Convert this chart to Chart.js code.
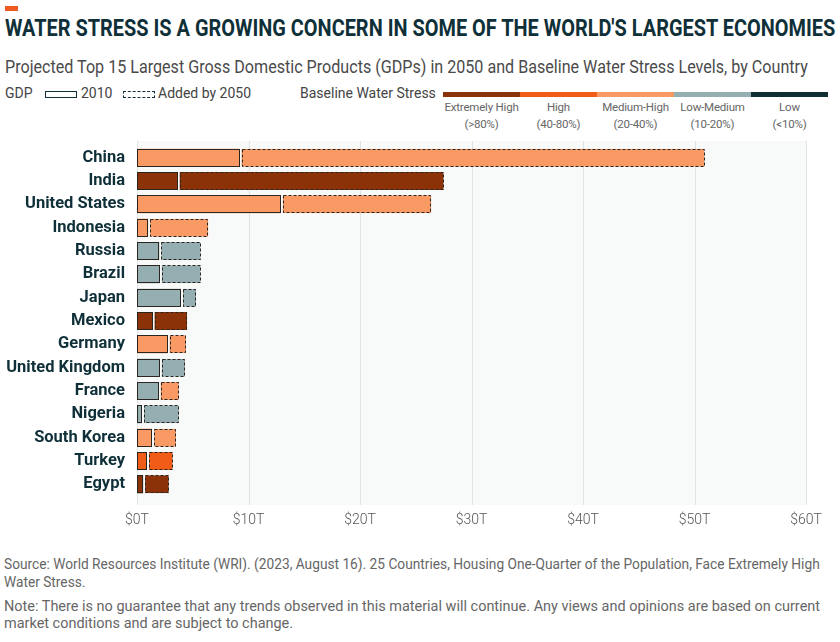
<!DOCTYPE html>
<html lang="en">
<head>
  <meta charset="UTF-8">
  <title>Water Stress and GDP</title>
  <script src="https://cdn.jsdelivr.net/npm/chart.js"></script>
  <style>
    body {
      margin: 0;
      width: 840px;
      height: 642px;
      background: #ffffff;
      font-family: Roboto, 'Noto Sans', sans-serif;
      position: relative;
      overflow: hidden;
    }
    .fit { position: absolute; white-space: nowrap; transform-origin: 0 0; }
    .mark { position: absolute; left: 5px; top: 6px; width: 13px; height: 5px; background: #ef5a23; }
    #title { left: 5px; top: 14px; font-size: 24px; font-weight: 700; color: #0f3038; }
    #subtitle { left: 5px; top: 55px; font-size: 19px; color: #4a4a4a; }
    .legtxt { position: absolute; top: 85px; font-size: 14px; color: #444; }
    .box { position: absolute; top: 91px; width: 30px; height: 5px; }
    .stressbar { position: absolute; top: 92px; height: 5px; width: 77px; }
    .stresslbl { position: absolute; top: 99px; width: 97px; text-align: center; white-space: nowrap;
      font-size: 11.5px; line-height: 17px; color: #666; letter-spacing: -0.2px; }
    .foot { font-size: 14px; color: #666; }
    #chartWrap { position: absolute; left: 0; top: 140px; width: 840px; height: 400px; }
  </style>
</head>
<body>
  <div class="mark"></div>
  <div id="title" class="fit" data-w="830">WATER STRESS IS A GROWING CONCERN IN SOME OF THE WORLD'S LARGEST ECONOMIES</div>
  <div id="subtitle" class="fit" data-w="803">Projected Top 15 Largest Gross Domestic Products (GDPs) in 2050 and Baseline Water Stress Levels, by Country</div>

  <div class="legtxt" style="left:5px;">GDP</div>
  <div class="box" style="left:45px; border:1px solid #0f3038;"></div>
  <div class="legtxt" style="left:81px;">2010</div>
  <div class="box" style="left:123px; border:1px dashed #0f3038;"></div>
  <div class="legtxt" style="left:158px;">Added by 2050</div>
  <div class="legtxt" style="left:300px;">Baseline Water Stress</div>
  <div id="stressLegend"></div>

  <div id="chartWrap"><canvas id="chart" width="840" height="400"></canvas></div>

  <div id="src1" class="fit foot" style="left:4px; top:556px;" data-w="816">Source: World Resources Institute (WRI). (2023, August 16). 25 Countries, Housing One-Quarter of the Population, Face Extremely High</div>
  <div class="fit foot" style="left:4px; top:574px;" data-ref="src1">Water Stress.</div>
  <div id="note1" class="fit foot" style="left:4px; top:598px;" data-w="816">Note: There is no guarantee that any trends observed in this material will continue. Any views and opinions are based on current</div>
  <div class="fit foot" style="left:4px; top:615px;" data-ref="note1">market conditions and are subject to change.</div>

  <script>
    const countries = ['China', 'India', 'United States', 'Indonesia', 'Russia', 'Brazil', 'Japan', 'Mexico',
      'Germany', 'United Kingdom', 'France', 'Nigeria', 'South Korea', 'Turkey', 'Egypt'];
    // GDP in trillions of USD
    const gdp2010 = [9.2, 3.65, 12.9, 1.0, 2.0, 2.05, 3.95, 1.4, 2.75, 2.05, 1.95, 0.45, 1.35, 0.9, 0.55];
    const addedBy2050 = [41.7, 23.85, 13.5, 5.4, 3.7, 3.65, 1.35, 3.1, 1.65, 2.25, 1.8, 3.3, 2.15, 2.3, 2.3];
    // baseline water stress level of each segment
    const stress2010 = ['MH', 'EH', 'MH', 'MH', 'LM', 'LM', 'LM', 'EH', 'MH', 'LM', 'LM', 'LM', 'MH', 'H', 'EH'];
    const stressAdded = ['MH', 'EH', 'MH', 'MH', 'LM', 'LM', 'LM', 'EH', 'MH', 'LM', 'MH', 'LM', 'MH', 'H', 'EH'];
    const xTicks = [0, 10, 20, 30, 40, 50, 60];

    const stressKeys = ['EH', 'H', 'MH', 'LM', 'L'];
    const stressNames = ['Extremely High', 'High', 'Medium-High', 'Low-Medium', 'Low'];
    const stressRanges = ['(>80%)', '(40-80%)', '(20-40%)', '(10-20%)', '(<10%)'];
    const stressColors = { EH: '#8b3209', H: '#f25c19', MH: '#f99a64', LM: '#94aeb2', L: '#0f2f35' };

    // legend strip
    const leg = document.getElementById('stressLegend');
    stressKeys.forEach((k, i) => {
      const left = 443 + i * 77;
      leg.innerHTML += '<div class="stressbar" style="left:' + left + 'px;background:' + stressColors[k] + '"></div>' +
        '<div class="stresslbl" style="left:' + (left - 10) + 'px">' + stressNames[i] + '<br>' + stressRanges[i] + '</div>';
    });

    // squeeze text lines to the width they take in the original
    const scales = {};
    document.querySelectorAll('.fit').forEach(el => {
      let sx;
      if (el.dataset.w) {
        sx = +el.dataset.w / el.offsetWidth;
        if (el.id) scales[el.id] = sx;
      } else {
        sx = scales[el.dataset.ref] || 0.93;
      }
      el.style.transform = 'scaleX(' + sx + ')';
    });

    const plotBg = {
      id: 'plotBg',
      beforeDatasetsDraw(chart) {
        const { ctx, chartArea: a, scales } = chart;
        ctx.save();
        ctx.fillStyle = '#f8fafa';
        ctx.fillRect(a.left, a.top - 5, a.right - a.left, a.bottom - a.top + 14);
        ctx.strokeStyle = '#dfe3e3';
        ctx.lineWidth = 1;
        xTicks.forEach(v => {
          const x = Math.round(scales.x.getPixelForValue(v)) + 0.5;
          ctx.beginPath();
          ctx.moveTo(x, a.top - 5);
          ctx.lineTo(x, a.bottom + 9);
          ctx.stroke();
        });
        ctx.restore();
      }
    };

    const outlines = {
      id: 'outlines',
      afterDatasetsDraw(chart) {
        const ctx = chart.ctx;
        ctx.save();
        ctx.lineWidth = 1;
        ctx.strokeStyle = '#2b2520';
        chart.getDatasetMeta(0).data.forEach(b => {
          const p = b.getProps(['x', 'y', 'base', 'height'], true);
          ctx.setLineDash([]);
          ctx.strokeRect(Math.round(p.base) + 0.5, Math.round(p.y - p.height / 2) + 0.5,
            Math.round(p.x - p.base) - 1, Math.round(p.height) - 1);
        });
        chart.getDatasetMeta(1).data.forEach(b => {
          const p = b.getProps(['x', 'y', 'base', 'height'], true);
          ctx.setLineDash([3, 2]);
          const x0 = Math.round(p.base) + 2;
          ctx.strokeRect(x0 + 0.5, Math.round(p.y - p.height / 2) + 0.5,
            Math.round(p.x) - x0 - 1, Math.round(p.height) - 1);
        });
        ctx.restore();
      }
    };

    new Chart(document.getElementById('chart'), {
      type: 'bar',
      data: {
        labels: countries,
        datasets: [{
          label: '2010',
          data: gdp2010,
          backgroundColor: stress2010.map(k => stressColors[k]),
          borderWidth: 0,
          categoryPercentage: 1,
          barPercentage: 0.77
        }, {
          label: 'Added by 2050',
          data: addedBy2050,
          backgroundColor: stressAdded.map(k => stressColors[k]),
          borderColor: '#f8fafa',
          borderWidth: { left: 2, top: 0, right: 0, bottom: 0 },
          borderSkipped: false,
          categoryPercentage: 1,
          barPercentage: 0.77
        }]
      },
      options: {
        indexAxis: 'y',
        responsive: false,
        animation: false,
        layout: { padding: { top: 6, right: 34, left: 0, bottom: 0 } },
        plugins: { legend: { display: false }, tooltip: { enabled: false } },
        scales: {
          x: {
            stacked: true,
            min: 0,
            max: 60,
            afterBuildTicks(scale) { scale.ticks = xTicks.map(v => ({ value: v })); },
            afterFit(scale) { scale.height = 44; },
            grid: { display: false, drawTicks: false },
            border: { display: false },
            ticks: {
              padding: 16,
              color: '#555',
              font: { family: 'Roboto', size: 14, weight: 300 },
              callback: v => '$' + v + 'T',
              maxRotation: 0
            }
          },
          y: {
            stacked: true,
            afterFit(scale) {
              scale.width = 137;
              scale.paddingTop = 0;
              scale.paddingBottom = 0;
            },
            grid: { display: false, drawTicks: false },
            border: { display: false },
            ticks: {
              autoSkip: false,
              padding: 12,
              color: '#0f3038',
              font: { family: 'Roboto', size: 16.5, weight: 'bold' }
            }
          }
        }
      },
      plugins: [plotBg, outlines]
    });
  </script>
</body>
</html>
